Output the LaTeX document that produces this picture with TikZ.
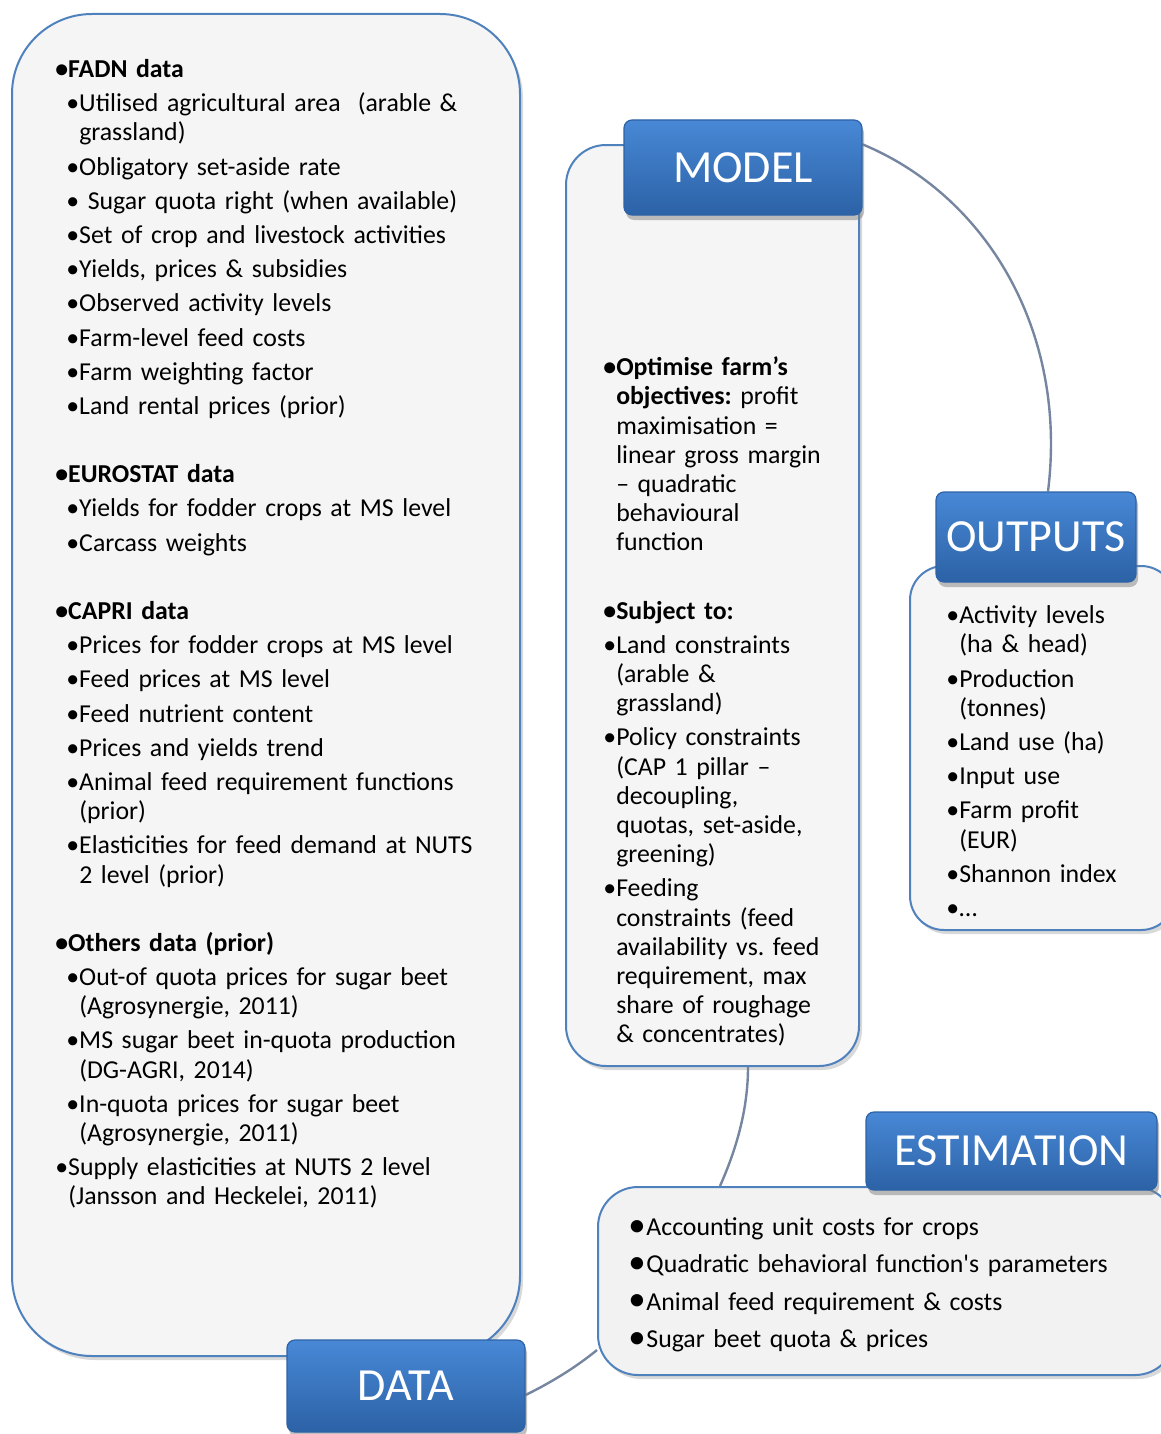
\documentclass[tikz,border=0pt]{standalone}
\usepackage{fontspec}
\setmainfont{Carlito}
\usetikzlibrary{shadows}
\usetikzlibrary{backgrounds}
\definecolor{pblue}{RGB}{79,129,189}
\definecolor{pfill}{RGB}{245,245,245}
\definecolor{efill}{RGB}{242,242,242}
\definecolor{htop}{RGB}{72,136,214}
\definecolor{hbot}{RGB}{44,98,166}
\definecolor{lnk}{RGB}{118,134,160}
\newcommand{\bodyfnt}{\fontsize{12.9}{14.6}\selectfont}
\newcommand{\headfnt}{\fontsize{23}{27}\selectfont}
\newlength{\bw}
\newcommand{\fs}{\rule{0pt}{10pt}}
\newcommand{\txtset}{\raggedright\frenchspacing\settowidth{\bw}{\textbullet}\setlength{\parskip}{2.5pt}}
\newcommand{\hd}[1]{\par\leftskip=0pt\hangindent=\bw\hangafter=1\noindent\textbf{\textbullet#1}}
\newcommand{\itm}[2][0pt]{\par\leftskip=#1\hangindent=\bw\hangafter=1\noindent\makebox[\bw][l]{\textbullet}#2}
\newcommand{\eitm}[1]{\par\noindent\makebox[9pt][l]{\raisebox{-0.4pt}{\scalebox{1.35}{\textbullet}}}#1}
\newcommand{\gap}{\par\vspace{17pt}}
\tikzset{panel/.style = {rectangle, rounded corners=#1, draw=pblue, line width=1pt, fill=pfill,
                         drop shadow={shadow xshift=1.5pt, shadow yshift=-2pt, opacity=0.3}}}
\tikzset{head/.style = {rectangle, rounded corners=4pt, draw=hbot, line width=0.6pt,
                        top color=htop, bottom color=hbot, text=white, font=\headfnt,
                        drop shadow={shadow xshift=1pt, shadow yshift=-2.5pt, opacity=0.5}}}
\tikzset{txt/.style = {anchor=north west, inner sep=0pt, text width=#1, font=\bodyfnt}}
\tikzset{link/.style = {draw=lnk, line width=1.2pt}}

\begin{document}
\begin{tikzpicture}[x=0.5pt, y=-0.5pt]
      \clip (0,0) rectangle (1161,1434);
      % panels
      \node [panel=40pt, minimum width=254pt, minimum height=671pt] (datapnl) at (266,685) {};
      \node [panel=20pt, minimum width=146.5pt, minimum height=460.5pt] (modelpnl) at (712.5,605.5) {};
      \node [panel=17pt, minimum width=132.5pt, minimum height=182pt] (outpnl) at (1042.5,748) {};
      \node [panel=20pt, fill=efill, minimum width=288.5pt, minimum height=94pt] (estpnl) at (886.5,1281) {};
      % headers
      \node [head, minimum width=119pt, minimum height=47.5pt] (modelhd) at (743,167.5) {MODEL};
      \node [head, minimum width=100pt, minimum height=45pt] (outhd) at (1036,537) {OUTPUTS};
      \node [head, minimum width=145.5pt, minimum height=39pt] (esthd) at (1011.5,1151) {ESTIMATION};
      \node [head, minimum width=119pt, minimum height=46pt] (datahd) at (406,1386) {DATA};
      % texts
      \node [txt=240pt] (datatxt) at (55,43) {\txtset
        \hd{\fs FADN data}
        \itm[5.5pt]{Utilised agricultural area\ \ (arable \&\newline grassland)}
        \itm[5.5pt]{Obligatory set-aside rate}
        \itm[5.5pt]{\ Sugar quota right (when available)}
        \itm[5.5pt]{Set of crop and livestock activities}
        \itm[5.5pt]{Yields, prices \& subsidies}
        \itm[5.5pt]{Observed activity levels}
        \itm[5.5pt]{Farm-level feed costs}
        \itm[5.5pt]{Farm weighting factor}
        \itm[5.5pt]{Land rental prices (prior)}
        \gap
        \hd{EUROSTAT data}
        \itm[5.5pt]{Yields for fodder crops at MS level}
        \itm[5.5pt]{Carcass weights}
        \gap
        \hd{CAPRI data}
        \itm[5.5pt]{Prices for fodder crops at MS level}
        \itm[5.5pt]{Feed prices at MS level}
        \itm[5.5pt]{Feed nutrient content}
        \itm[5.5pt]{Prices and yields trend}
        \itm[5.5pt]{Animal feed requirement functions\newline (prior)}
        \itm[5.5pt]{Elasticities for feed demand at NUTS\newline 2 level (prior)}
        \gap
        \hd{Others data (prior)}
        \itm[5.5pt]{Out-of quota prices for sugar beet\newline (Agrosynergie, 2011)}
        \itm[5.5pt]{MS sugar beet in-quota production\newline (DG-AGRI, 2014)}
        \itm[5.5pt]{In-quota prices for sugar beet\newline (Agrosynergie, 2011)}
        \itm{Supply elasticities at NUTS 2 level\newline (Jansson and Heckelei, 2011)}
        \par};
      \node [txt=140pt] (modeltxt) at (603,341) {\txtset
        \hd{\fs Optimise farm’s}
        \newline\textbf{objectives:} profit\newline maximisation =\newline linear gross margin\newline
        – quadratic\newline behavioural\newline function
        \gap
        \hd{Subject to:}
        \itm{Land constraints\newline (arable \&\newline grassland)}
        \itm{Policy constraints\newline (CAP 1 pillar –\newline decoupling,\newline quotas, set-aside,\newline greening)}
        \itm{Feeding\newline constraints (feed\newline availability vs. feed\newline requirement, max\newline
          share of roughage\newline \& concentrates)}
        \par};
      \node [txt=105pt] (outtxt) at (946,589) {\txtset
        \itm{\fs Activity levels\newline (ha \& head)}
        \itm{Production\newline (tonnes)}
        \itm{Land use (ha)}
        \itm{Input use}
        \itm{Farm profit\newline (EUR)}
        \itm{Shannon index}
        \itm{…}
        \par};
      \node [txt=260pt] (esttxt) at (628,1198) {\txtset\setlength{\parskip}{4pt}
        \eitm{\fs Accounting unit costs for crops}
        \eitm{Quadratic behavioral function\textquotesingle s parameters}
        \eitm{Animal feed requirement \& costs}
        \eitm{Sugar beet quota \& prices}
        \par};
      % cycle behind the boxes
      \begin{scope}[on background layer]
        \draw [link] ([yshift=-12.5pt]modelhd.north east) .. controls (985,195) and (1068,330) .. ([xshift=6pt]outhd.north);
        \draw [link] ([xshift=17.75pt]modelpnl.south) .. controls (748,1110) and (736,1150) .. ([xshift=-83.25pt]estpnl.north);
        \draw [link] ([yshift=-34.5pt]estpnl.west) .. controls (575,1368) and (550,1383) .. ([yshift=-4.5pt]datahd.east);
      \end{scope}
    \end{tikzpicture}
\end{document}
